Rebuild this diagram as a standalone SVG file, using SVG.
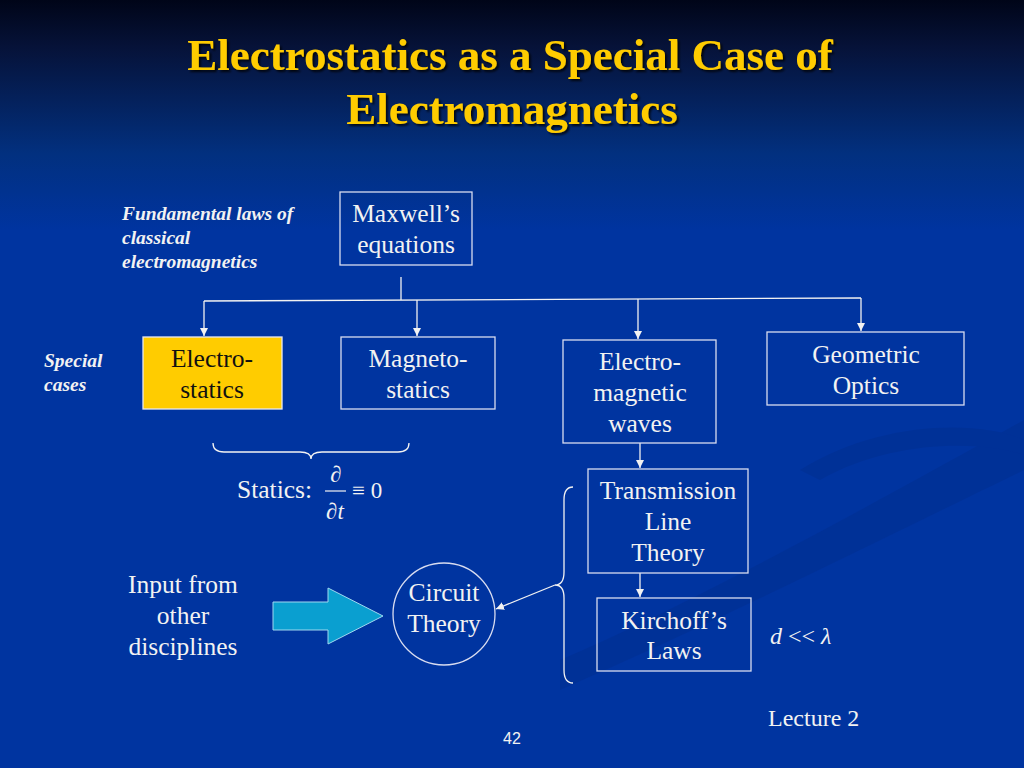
<svg xmlns="http://www.w3.org/2000/svg" width="1024" height="768" viewBox="0 0 1024 768">
<defs>
<linearGradient id="bg" x1="0" y1="0" x2="0" y2="1">
<stop offset="0" stop-color="#000518"/>
<stop offset="0.06" stop-color="#061238"/>
<stop offset="0.2" stop-color="#02307f"/>
<stop offset="0.3" stop-color="#0034a0"/>
<stop offset="1" stop-color="#0034a0"/>
</linearGradient>
<marker id="ah" viewBox="0 0 10 10" refX="10" refY="5" markerWidth="8" markerHeight="8" markerUnits="userSpaceOnUse" orient="auto">
<path d="M0,0 L10,5 L0,10 z" fill="#f2f2f2"/>
</marker>
<filter id="sh" x="-5%" y="-5%" width="110%" height="120%">
<feDropShadow dx="2" dy="2" stdDeviation="0.8" flood-color="#000" flood-opacity="0.8"/>
</filter>
<style>
.t{font-family:"Liberation Serif","Times New Roman",serif;fill:#f2f2f2;font-size:25.5px;text-anchor:middle}
.it{font-family:"Liberation Serif","Times New Roman",serif;fill:#f2f2f2;font-size:19.5px;font-style:italic;font-weight:bold}
.box{fill:none;stroke:#d8dcf0;stroke-width:1.3}
.ln{fill:none;stroke:#f2f2f2;stroke-width:1.3}
</style>
</defs>
<rect width="1024" height="768" fill="url(#bg)"/>
<g fill="#002f90" opacity="0.55">
<path d="M560,660 C700,600 880,500 1024,420 L1024,470 C880,540 720,620 560,690 Z"/>
<path d="M800,470 C880,420 980,420 1024,440 L1024,455 C980,440 890,440 820,480 Z"/>
</g>
<g id="title" filter="url(#sh)" font-family="'Liberation Serif','Times New Roman',serif" font-weight="bold" font-size="45" fill="#ffcc00" text-anchor="middle">
<text x="510" y="70">Electrostatics as a Special Case of</text>
<text x="512" y="124">Electromagnetics</text>
</g>
<g id="label-fundamental">
<text class="it" x="122" y="220">Fundamental laws of</text>
<text class="it" x="122" y="244">classical</text>
<text class="it" x="122" y="268">electromagnetics</text>
</g>
<g id="label-special">
<text class="it" x="44" y="367">Special</text>
<text class="it" x="44" y="391">cases</text>
</g>
<g id="connectors">
<line class="ln" x1="401" y1="277" x2="401" y2="300"/>
<path class="ln" d="M204,301 L861,298"/>
<line class="ln" x1="204" y1="301" x2="204" y2="336" marker-end="url(#ah)"/>
<line class="ln" x1="417" y1="300" x2="417" y2="336" marker-end="url(#ah)"/>
<line class="ln" x1="638" y1="299" x2="638" y2="339" marker-end="url(#ah)"/>
<line class="ln" x1="861" y1="298" x2="861" y2="331" marker-end="url(#ah)"/>
<line class="ln" x1="640" y1="443" x2="640" y2="468" marker-end="url(#ah)"/>
<line class="ln" x1="640" y1="573" x2="640" y2="597" marker-end="url(#ah)"/>
<line class="ln" x1="555" y1="585" x2="496" y2="609" marker-end="url(#ah)"/>
<path class="ln" d="M213,443 Q213,452 224,452 L300,452 Q311,452 311,459 Q311,452 322,452 L398,452 Q409,452 409,443"/>
<path class="ln" d="M573,487 Q564,487 564,500 L564,572 Q564,585 555,585 Q564,585 564,598 L564,670 Q564,683 573,683"/>
</g>
<g id="maxwell">
<rect class="box" x="340" y="192" width="132" height="73"/>
<text class="t" x="406" y="222">Maxwell’s</text>
<text class="t" x="406" y="253">equations</text>
</g>
<g id="electrostatics">
<rect x="143" y="337" width="139" height="72" fill="#ffcc00" stroke="#e8e8f0" stroke-width="1.3"/>
<text class="t" x="212" y="367" style="fill:#111">Electro-</text>
<text class="t" x="212" y="398" style="fill:#111">statics</text>
</g>
<g id="magnetostatics">
<rect class="box" x="341" y="337" width="154" height="72"/>
<text class="t" x="418" y="367">Magneto-</text>
<text class="t" x="418" y="398">statics</text>
</g>
<g id="emwaves">
<rect class="box" x="563" y="340" width="153" height="103"/>
<text class="t" x="640" y="370">Electro-</text>
<text class="t" x="640" y="401">magnetic</text>
<text class="t" x="640" y="432">waves</text>
</g>
<g id="optics">
<rect class="box" x="767" y="332" width="197" height="73"/>
<text class="t" x="866" y="363">Geometric</text>
<text class="t" x="866" y="394">Optics</text>
</g>
<g id="statics-eq">
<text class="t" x="237" y="498" style="text-anchor:start">Statics:</text>
<text class="t" x="336" y="482" style="font-style:italic;font-size:23px">∂</text>
<line x1="325" y1="491" x2="346" y2="491" stroke="#f2f2f2" stroke-width="1.2"/>
<text class="t" x="335" y="519" style="font-style:italic;font-size:23px">∂t</text>
<text class="t" x="352" y="498" style="text-anchor:start;font-size:23px">≡ 0</text>
</g>
<g id="transmission">
<rect class="box" x="588" y="469" width="160" height="104"/>
<text class="t" x="668" y="499">Transmission</text>
<text class="t" x="668" y="530">Line</text>
<text class="t" x="668" y="561">Theory</text>
</g>
<g id="kirchoff">
<rect class="box" x="597" y="598" width="154" height="73"/>
<text class="t" x="674" y="629">Kirchoff’s</text>
<text class="t" x="674" y="659">Laws</text>
</g>
<g id="circuit">
<circle cx="444" cy="614" r="51" class="box"/>
<text class="t" x="444" y="601">Circuit</text>
<text class="t" x="444" y="632">Theory</text>
</g>
<g id="input-arrow">
<path d="M273,602 L328,602 L328,588 L383,616 L328,644 L328,630 L273,630 Z" fill="#0a9fd0" stroke="#9fd8f0" stroke-width="1"/>
</g>
<g id="input">
<text class="t" x="183" y="593">Input from</text>
<text class="t" x="183" y="624">other</text>
<text class="t" x="183" y="655">disciplines</text>
</g>
<g id="cond">
<text class="t" x="770" y="644" style="text-anchor:start;font-size:24px"><tspan font-style="italic">d</tspan> &lt;&lt; <tspan font-style="italic">λ</tspan></text>
</g>
<g id="footer">
<text class="t" x="768" y="726" style="text-anchor:start;font-size:24px">Lecture 2</text>
<text x="512" y="744" font-family="'Liberation Sans',Arial,sans-serif" font-size="16" fill="#f2f2f2" text-anchor="middle">42</text>
</g>
</svg>
